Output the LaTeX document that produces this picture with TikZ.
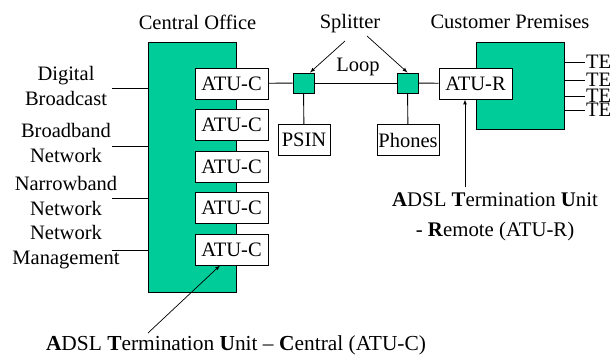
\documentclass[tikz,border=0pt]{standalone}
\usepackage{fontspec}
\setmainfont{Liberation Serif}
\definecolor{adslgreen}{RGB}{0,204,153}
\newcommand{\bigfont}{\fontsize{20.5}{25}\selectfont}

\begin{document}
\begin{tikzpicture}[x=1pt,y=-1pt]
    \tikzstyle{every node}=[font=\bigfont]
    \tikzstyle{greenbox}=[draw,fill=adslgreen,line width=1pt,inner sep=0pt]
    \tikzstyle{unit}=[draw,fill=white,line width=1pt,inner sep=0pt,minimum height=31pt]
    \tikzstyle{wire}=[line width=0.9pt]
    \tikzstyle{pointer}=[-latex,line width=0.7pt]
    \useasboundingbox (0,0) rectangle (614,360);
    \node[greenbox,minimum width=88pt,minimum height=250pt] (co) at (192,167) {};
    \node (colabel) at (197.5,22) {Central Office};
    \foreach \i/\y in {1/83.5,2/125,3/166.5,4/208,5/249.5}
        \node[unit,minimum width=73pt] (atuc\i) at (231.5,\y) {ATU-C};
    \node[align=center] (net1) at (66,85.5) {Digital\\Broadcast};
    \node[align=center] (net2) at (66,143) {Broadband\\Network};
    \node[align=center] (net3) at (66,195.5) {Narrowband\\Network};
    \node[align=center] (net4) at (66,247.5) {Network\\Management};
    \foreach \i/\y in {1/88,2/146,3/198,4/250}{
        \coordinate (n\i) at (112,\y);
        \draw[wire] (n\i) -- (n\i -| co.west);
    }
    \node[greenbox,minimum width=88pt,minimum height=87pt] (cp) at (520,85.5) {};
    \node (cplabel) at (510,22) {Customer Premises};
    \node[unit,minimum width=73pt] (atur) at (475.5,83.5) {ATU-R};
    \foreach \i/\y in {1/62,2/80,3/96,4/110}{
        \node[anchor=west,inner sep=1pt] (te\i) at (585,\y) {TE};
        \draw[wire] (te\i.west -| cp.east) -- (te\i.west);
    }
    \node[greenbox,minimum width=21pt,minimum height=20pt] (sp1) at (303.5,83) {};
    \node[greenbox,minimum width=21pt,minimum height=20pt] (sp2) at (407.5,83) {};
    \node[unit,minimum width=52pt] (psin) at (304,140) {PSIN};
    \node[unit,minimum width=62pt] (phones) at (408,140) {Phones};
    \node (splitter) at (350,24) {Splitter};
    \node (loop) at (358,67) {Loop};
    \draw[wire] (atuc1) -- (sp1);
    \draw[wire] (sp1) -- (sp2);
    \draw[wire] (sp2) -- (atur);
    \draw[wire] (sp1) -- (psin);
    \draw[wire] (sp2) -- (phones);
    \coordinate (sa) at (345,41);
    \coordinate (sb) at (367,36);
    \draw[pointer] (sa) -- ([xshift=6.5pt]sp1.north);
    \draw[pointer] (sb) -- (sp2.north);
    \node[align=center,font=\fontsize{20.8}{30}\selectfont] (rlabel) at (495,217)
        {\textbf{A}DSL \textbf{T}ermination \textbf{U}nit\\- \textbf{R}emote (ATU-R)};
    \coordinate (rtail) at (465,187);
    \draw[pointer] (rtail) -- (rtail |- atur.south);
    \node[font=\fontsize{21.4}{26}\selectfont] (clabel) at (236,345)
        {\textbf{A}DSL \textbf{T}ermination \textbf{U}nit -- \textbf{C}entral (ATU-C)};
    \coordinate (ctail) at (148,333);
    \draw[pointer] (ctail) -- ([xshift=-11.5pt]atuc5.south);
\end{tikzpicture}
\end{document}
